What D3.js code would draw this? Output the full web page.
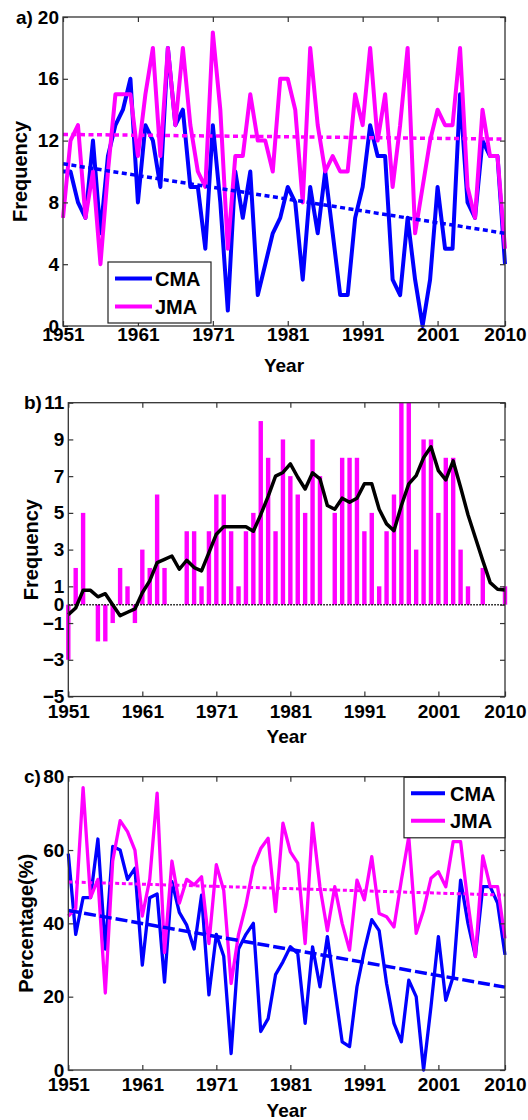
<!DOCTYPE html>
<html>
<head>
<meta charset="utf-8">
<script src="https://cdn.jsdelivr.net/npm/d3@7"></script>
<style>
body { margin: 0; background: #fff; }
svg text { font-family: "Liberation Sans", Arial, sans-serif; font-weight: bold; fill: #000; }
</style>
</head>
<body>
<script>
const years = d3.range(1951, 2011);
const yearTicks = [1951, 1961, 1971, 1981, 1991, 2001, 2010];

// a) yearly frequency
const cmaFreq = [10, 10, 8, 7, 12, 6, 11, 13, 14, 16,
                 8, 13, 12, 9, 18, 13, 14, 9, 9, 5,
                 13, 8, 1, 10, 7, 10, 2, 4, 6, 7,
                 9, 8, 3, 9, 6, 10, 6, 2, 2, 7,
                 9, 13, 11, 11, 3, 2, 7, 3, 0, 3,
                 9, 5, 5, 15, 8, 7, 12, 11, 11, 4];
const jmaFreq = [7, 12, 13, 7, 10, 4, 10, 15, 15, 15,
                 11, 15, 18, 11, 18, 13, 18, 13, 10, 9,
                 19, 14, 5, 11, 11, 15, 12, 12, 10, 16,
                 16, 14, 8, 18, 13, 10, 11, 10, 10, 15,
                 13, 18, 12, 15, 9, 13, 18, 6, 9, 12,
                 14, 13, 13, 18, 9, 7, 14, 11, 11, 5];
const cmaFreqTrend = [10.5, 6.0];
const jmaFreqTrend = [12.4, 12.1];
const freqTicks = [0, 4, 8, 12, 16, 20];

// b) JMA minus CMA and its running mean
const freqDiff = [-3, 2, 5, 0, -2, -2, -1, 2, 1, -1,
                  3, 2, 6, 2, 0, 0, 4, 4, 1, 4,
                  6, 6, 4, 1, 4, 5, 10, 8, 4, 9,
                  7, 6, 5, 9, 7, 0, 5, 8, 8, 8,
                  4, 5, 1, 4, 6, 11, 11, 3, 9, 9,
                  5, 8, 8, 3, 1, 0, 2, 0, 0, 1];
const diffSmooth = [-0.54, -0.18, 0.78, 0.78, 0.43, 0.6, 0.0, -0.6, -0.41, -0.23,
                    0.65, 1.3, 2.29, 2.47, 2.65, 1.93, 2.42, 2.02, 1.84, 2.84,
                    3.84, 4.25, 4.25, 4.25, 4.25, 4.0, 4.9, 5.9, 7.0, 7.2,
                    7.67, 6.94, 6.3, 7.18, 6.85, 5.4, 5.2, 5.8, 5.58, 5.8,
                    6.58, 6.58, 5.2, 4.4, 4.03, 5.4, 6.58, 7.03, 8.0, 8.6,
                    7.3, 6.8, 7.83, 6.4, 4.9, 3.65, 2.4, 1.2, 0.84, 0.8];
const diffTicks = [-5, -3, -1, 0, 1, 3, 5, 7, 9, 11];

// c) percentage
const cmaPct = [59, 37, 47, 47, 63, 33, 61, 60, 52, 55,
                28.6, 47, 48, 24, 51.4, 43, 39.5, 33, 47.7, 20.5,
                37, 31, 4.5, 33, 37, 40, 10.5, 14, 26, 29.5,
                33.6, 31.8, 12.7, 33.6, 22.7, 36.4, 22, 7.7, 6.4, 22.7,
                32.7, 41, 38, 23.6, 12.7, 7.7, 24.5, 20, 0, 17.3,
                36.4, 19, 25.5, 51.8, 40, 31, 50, 50, 45.5, 31.4];
const jmaPct = [42, 44, 77, 47, 52, 21, 57, 68, 65, 60,
                42, 52, 75.5, 32, 57, 45.5, 52, 50.5, 52.7, 34.5,
                56, 49, 23.6, 37, 45, 55.4, 60.4, 63.2, 43.2, 67.3,
                59.5, 56.4, 34.5, 67.3, 50, 38, 50, 40, 32.7, 51.8,
                46.4, 58.2, 42.7, 41.8, 39, 51.8, 63.6, 37.3, 43.6, 52.3,
                54.1, 50, 62.3, 62.3, 45.5, 30.9, 58.4, 50, 50, 35.9];
const cmaPctTrend = [43.5, 22.6];
const jmaPctTrend = [51.3, 47.7];
const pctTicks = [0, 20, 40, 60, 80];

const BLUE = '#0000ff';
const MAGENTA = '#ff00ff';
const AXIS = '#333';

const svg = d3.select('body').append('svg')
    .attr('width', 528)
    .attr('height', 1120);

const panel = (o) => {
    const x = d3.scaleLinear().domain([1951, 2010]).range([o.left, o.right]);
    const y = d3.scaleLinear().domain(o.yDomain).range([o.bottom, o.top]);
    const g = svg.append('g');
    return { x, y, g, o };
};

const drawAxes = (p) => {
    const { x, y, g, o } = p;
    g.append('rect')
        .attr('x', o.left).attr('y', o.top)
        .attr('width', o.right - o.left).attr('height', o.bottom - o.top)
        .attr('fill', 'none').attr('stroke', AXIS).attr('stroke-width', 1.3);

    const bottom = g.append('g')
        .attr('transform', `translate(0,${o.bottom})`)
        .call(d3.axisBottom(x).tickValues(yearTicks).tickFormat(d3.format('d'))
            .tickSizeInner(-5).tickSizeOuter(0).tickPadding(o.xPad));
    const top = g.append('g')
        .attr('transform', `translate(0,${o.top})`)
        .call(d3.axisTop(x).tickValues(yearTicks).tickFormat('')
            .tickSizeInner(-5).tickSizeOuter(0));
    const left = g.append('g')
        .attr('transform', `translate(${o.left},0)`)
        .call(d3.axisLeft(y).tickValues(o.yTicks).tickFormat(d3.format('d'))
            .tickSizeInner(-5).tickSizeOuter(0).tickPadding(4));
    const right = g.append('g')
        .attr('transform', `translate(${o.right},0)`)
        .call(d3.axisRight(y).tickValues(o.yTicks).tickFormat('')
            .tickSizeInner(-5).tickSizeOuter(0));

    [bottom, top, left, right].forEach(a => {
        a.select('.domain').remove();
        a.selectAll('.tick line').attr('stroke', AXIS).attr('stroke-width', 1.2);
        a.selectAll('text').attr('font-size', 19).attr('fill', '#000')
            .attr('font-family', '"Liberation Sans", Arial, sans-serif')
            .attr('font-weight', 'bold');
    });

    g.append('text')
        .attr('x', o.tagX).attr('y', o.top).attr('dy', '0.35em')
        .attr('font-size', 19)
        .text(o.tag);

    g.append('text')
        .attr('x', (o.left + o.right) / 2).attr('y', o.xLabelY)
        .attr('text-anchor', 'middle').attr('font-size', 19)
        .text('Year');

    g.append('text')
        .attr('transform', `translate(${o.yLabelX},${(o.top + o.bottom) / 2}) rotate(-90)`)
        .attr('text-anchor', 'middle').attr('font-size', 20)
        .text(o.yLabel);
};

const drawSeries = (p, values, color, width) => {
    const line = d3.line().x((d, i) => p.x(years[i])).y(d => p.y(d));
    p.g.append('path').datum(values)
        .attr('d', line)
        .attr('fill', 'none').attr('stroke', color)
        .attr('stroke-width', width).attr('stroke-linejoin', 'round');
};

const drawTrend = (p, ends, color, width, dash) => {
    p.g.append('line')
        .attr('x1', p.x(1951)).attr('y1', p.y(ends[0]))
        .attr('x2', p.x(2010)).attr('y2', p.y(ends[1]))
        .attr('stroke', color).attr('stroke-width', width)
        .attr('stroke-dasharray', dash);
};

const drawLegend = (p, box) => {
    const lg = p.g.append('g');
    lg.append('rect')
        .attr('x', box.x).attr('y', box.y).attr('width', box.w).attr('height', box.h)
        .attr('fill', '#fff').attr('stroke', '#222').attr('stroke-width', 1.2);
    [['CMA', BLUE], ['JMA', MAGENTA]].forEach(([name, c], i) => {
        const ly = box.y + box.row0 + i * box.step;
        lg.append('line')
            .attr('x1', box.x + box.l0).attr('x2', box.x + box.l1)
            .attr('y1', ly).attr('y2', ly)
            .attr('stroke', c).attr('stroke-width', 4);
        lg.append('text')
            .attr('x', box.x + box.tx).attr('y', ly).attr('dy', '0.36em')
            .attr('font-size', 20)
            .text(name);
    });
};

// ---- panel a ----
const pa = panel({ left: 63, right: 505, top: 17, bottom: 326, yDomain: [0, 20], yTicks: freqTicks,
    xPad: 1, tag: 'a)', tagX: 16, xLabelY: 372, yLabelX: 27, yLabel: 'Frequency' });
drawSeries(pa, cmaFreq, BLUE, 4);
drawSeries(pa, jmaFreq, MAGENTA, 4);
drawTrend(pa, cmaFreqTrend, BLUE, 3.5, '5,3.5');
drawTrend(pa, jmaFreqTrend, MAGENTA, 3.5, '5,3.5');
drawAxes(pa);
drawLegend(pa, { x: 108, y: 262, w: 103, h: 61, row0: 16.5, step: 28, l0: 7, l1: 44, tx: 47 });

// ---- panel b ----
const pb = panel({ left: 68.3, right: 505, top: 402.7, bottom: 696.5, yDomain: [-5, 11], yTicks: diffTicks,
    xPad: 8, tag: 'b)', tagX: 24, xLabelY: 743, yLabelX: 38, yLabel: 'Frequency' });
pb.g.append('g').selectAll('rect')
    .data(freqDiff)
    .join('rect')
    .attr('x', (d, i) => pb.x(years[i]) - 2.2)
    .attr('width', 4.4)
    .attr('y', d => pb.y(Math.max(0, d)))
    .attr('height', d => Math.abs(pb.y(d) - pb.y(0)))
    .attr('fill', MAGENTA);
pb.g.append('line')
    .attr('x1', pb.x(1951)).attr('x2', pb.x(2010))
    .attr('y1', pb.y(0)).attr('y2', pb.y(0))
    .attr('stroke', '#000').attr('stroke-width', 1.5).attr('stroke-dasharray', '1.5,1.5');
drawSeries(pb, diffSmooth, '#000', 3.5);
drawAxes(pb);

// ---- panel c ----
const pc = panel({ left: 68.3, right: 505, top: 776.7, bottom: 1070, yDomain: [0, 80], yTicks: pctTicks,
    xPad: 8, tag: 'c)', tagX: 24, xLabelY: 1117, yLabelX: 33, yLabel: 'Percentage(%)' });
drawSeries(pc, cmaPct, BLUE, 3.3);
drawSeries(pc, jmaPct, MAGENTA, 3.3);
drawTrend(pc, cmaPctTrend, BLUE, 3.5, '12,4');
drawTrend(pc, jmaPctTrend, MAGENTA, 3, '4,2.7');
drawAxes(pc);
drawLegend(pc, { x: 404, y: 777.3, w: 101, h: 60.5, row0: 16, step: 27.5, l0: 7, l1: 41, tx: 46 });
</script>
</body>
</html>
